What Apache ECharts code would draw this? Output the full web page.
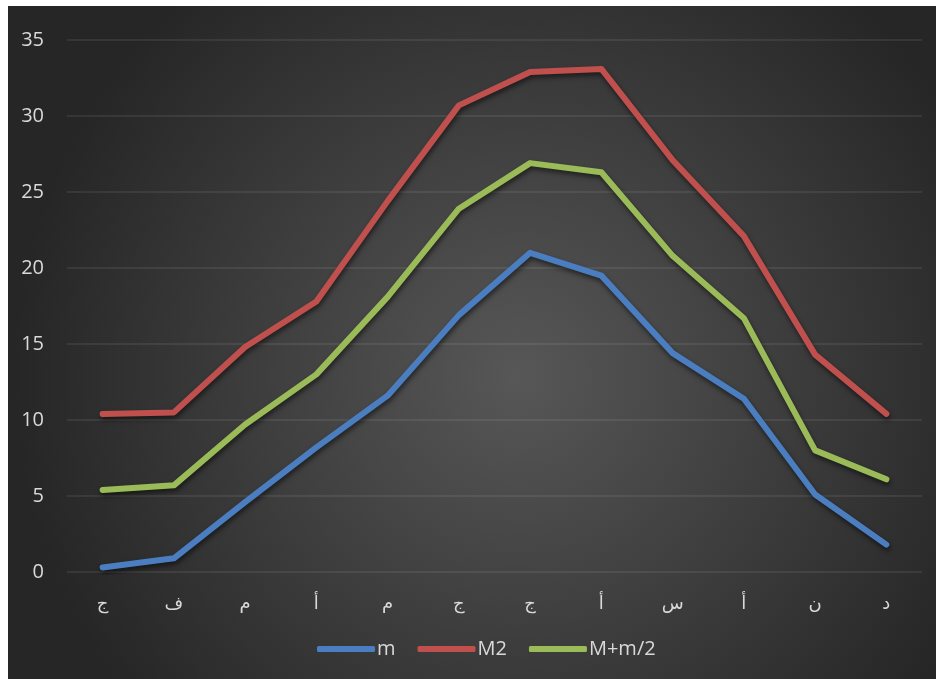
<!DOCTYPE html>
<html>
<head>
<meta charset="utf-8">
<script src="https://cdn.jsdelivr.net/npm/echarts@6/dist/echarts.min.js"></script>
<style>
  html, body { margin: 0; padding: 0; background: #ffffff; }
  #chart { position: absolute; left: 8px; top: 6px; width: 928px; height: 673px; }
</style>
</head>
<body>
<div id="chart"></div>
<script>
// Month initials (Arabic)
const months = ['ج', 'ف', 'م', 'أ', 'م', 'ج', 'ج', 'أ', 'س', 'أ', 'ن', 'د'];

// Monthly temperatures (°C)
const seriesM = [0.3, 0.9, 4.6, 8.2, 11.6, 16.9, 21.0, 19.5, 14.4, 11.4, 5.1, 1.8];
const seriesM2 = [10.4, 10.5, 14.8, 17.8, 24.4, 30.7, 32.9, 33.1, 27.1, 22.1, 14.3, 10.4];
const seriesMean = [5.4, 5.7, 9.7, 13.0, 18.1, 23.9, 26.9, 26.3, 20.8, 16.7, 8.0, 6.1];

const seriesNames = ['m', 'M2', 'M+m/2'];
const seriesColors = ['#4a7ec0', '#c0504d', '#9bbb59'];

const yTicks = { min: 0, max: 35, interval: 5 };

const fontStack = '"Open Sans", "DejaVu Sans", sans-serif';

function lineSeries(name, data, color) {
  return {
    name: name,
    type: 'line',
    data: data,
    showSymbol: false,
    symbol: 'none',
    color: color,
    lineStyle: {
      width: 6,
      color: color,
      cap: 'round',
      join: 'round',
      shadowColor: 'rgba(0,0,0,0.55)',
      shadowBlur: 5,
      shadowOffsetX: 1,
      shadowOffsetY: 3
    },
    emphasis: { disabled: true },
    animation: false
  };
}

const chart = echarts.init(document.getElementById('chart'), null, { renderer: 'canvas' });
chart.setOption({
  animation: false,
  backgroundColor: {
    type: 'radial',
    x: 0.55, y: 0.55, r: 0.75,
    colorStops: [
      { offset: 0, color: '#575757' },
      { offset: 1, color: '#262626' }
    ]
  },
  grid: { left: 59, right: 14, top: 34, bottom: 107, containLabel: false },
  legend: {
    bottom: 15,
    left: 304,
    icon: 'roundRect',
    itemWidth: 58,
    itemHeight: 6,
    itemGap: 22,
    data: seriesNames,
    textStyle: { color: '#d9d9d9', fontSize: 20, fontFamily: fontStack, padding: [0, 0, 0, -3] }
  },
  xAxis: {
    type: 'category',
    data: months,
    boundaryGap: true,
    axisLine: { show: false },
    axisTick: { show: false },
    axisLabel: { color: '#d9d9d9', fontSize: 18, fontFamily: '"DejaVu Sans", sans-serif', margin: 23 }
  },
  yAxis: {
    type: 'value',
    min: yTicks.min,
    max: yTicks.max,
    interval: yTicks.interval,
    axisLine: { show: false },
    axisTick: { show: false },
    splitLine: { lineStyle: { color: 'rgba(255,255,255,0.1)', width: 1.5 } },
    axisLabel: { color: '#d9d9d9', fontSize: 20, fontFamily: fontStack, margin: 23 }
  },
  series: [
    lineSeries(seriesNames[0], seriesM, seriesColors[0]),
    lineSeries(seriesNames[1], seriesM2, seriesColors[1]),
    lineSeries(seriesNames[2], seriesMean, seriesColors[2])
  ]
});
</script>
</body>
</html>
